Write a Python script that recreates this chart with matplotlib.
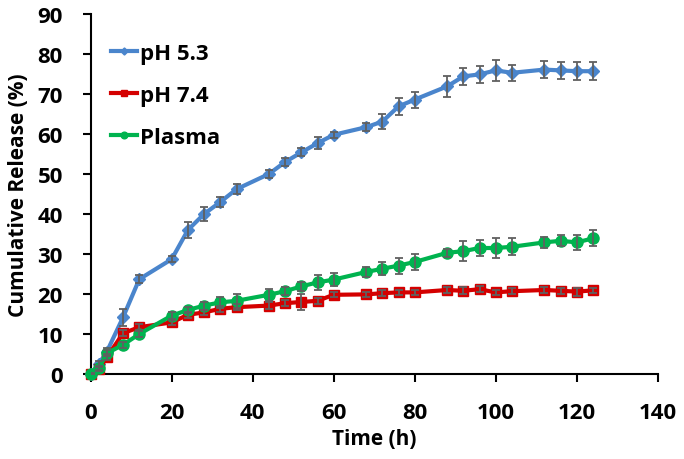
import matplotlib
matplotlib.use("Agg")
import matplotlib.pyplot as plt
import numpy as np

plt.rcParams['font.family'] = ['Open Sans', 'DejaVu Sans']
plt.rcParams['font.weight'] = 'bold'

time_h = [0, 2, 4, 8, 12, 20, 24, 28, 32, 36, 44, 48, 52, 56, 60, 68, 72, 76, 80,
          88, 92, 96, 100, 104, 112, 116, 120, 124]

ph53 = [0, 2.5, 5.6, 14.2, 23.7, 28.7, 36.0, 40.0, 43.0, 46.2, 50.0, 53.0, 55.4, 57.7,
        59.8, 61.7, 63.1, 66.9, 68.6, 71.9, 74.4, 74.9, 75.9, 75.3, 76.1, 75.9, 75.7, 75.7]
ph53_err = [0.3, 0.8, 1.0, 2.1, 1.0, 0.8, 1.9, 1.7, 1.2, 1.3, 1.0, 1.0, 1.0, 1.5,
            0.8, 1.0, 1.8, 2.1, 2.0, 2.6, 2.2, 2.1, 2.6, 2.0, 2.1, 2.1, 2.3, 2.3]

ph74 = [0, 1.2, 4.2, 10.2, 11.7, 12.9, 14.8, 15.4, 16.3, 16.7, 17.1, 17.7, 18.0, 18.3,
        19.8, 19.9, 20.2, 20.4, 20.4, 21.0, 20.8, 21.2, 20.4, 20.7, 21.0, 20.8, 20.6, 20.9]
ph74_err = [0.2, 0.5, 0.8, 0.8, 0.7, 0.7, 0.7, 0.7, 0.7, 0.8, 0.8, 0.8, 2.0, 0.8,
            0.6, 0.6, 0.7, 0.6, 0.6, 0.7, 0.9, 0.7, 0.7, 0.7, 0.8, 0.8, 1.0, 0.7]

plasma = [0, 1.5, 5.2, 7.3, 10.0, 14.6, 16.0, 17.1, 17.9, 18.3, 19.8, 20.7, 21.9, 22.9,
          23.6, 25.5, 26.3, 27.1, 28.0, 30.3, 30.7, 31.5, 31.5, 31.8, 32.9, 33.3, 32.9, 33.9]
plasma_err = [0.3, 0.5, 0.8, 0.8, 0.8, 0.9, 0.8, 1.0, 1.3, 1.7, 1.5, 1.0, 1.2, 1.8,
              1.6, 1.2, 1.6, 2.0, 2.0, 1.0, 2.5, 2.0, 2.6, 2.1, 1.3, 1.4, 1.8, 2.0]

blue = '#4a85cc'
red = '#d40000'
green = '#00b34f'
errc = '#606060'

fig = plt.figure(figsize=(6.84, 4.60), dpi=100)
ax = fig.add_axes([0.1326, 0.1848, 0.829, 0.7826])

series = [
    (ph53, ph53_err, blue, 'D', 6, 'pH 5.3'),
    (ph74, ph74_err, red, 's', 7, 'pH 7.4'),
    (plasma, plasma_err, green, 'o', 8, 'Plasma'),
]
handles = []
for vals, err, col, mk, ms, lab in series:
    h, = ax.plot(time_h, vals, color=col, lw=3, marker=mk, ms=ms, mfc=col, mec=col,
                 label=lab, zorder=3, clip_on=False)
    ax.errorbar(time_h, vals, yerr=err, fmt='none', ecolor=errc, elinewidth=1.3,
                capsize=3, capthick=1.3, zorder=4)
    handles.append(h)

ax.set_xlim(0, 140)
ax.set_ylim(0, 90)
ax.set_xticks(np.arange(0, 141, 20))
ax.set_yticks(np.arange(0, 91, 10))
for s in ['top', 'right']:
    ax.spines[s].set_visible(False)
for s in ['left', 'bottom']:
    ax.spines[s].set_linewidth(1.5)
ax.tick_params(axis='both', direction='out', length=6, width=1.5, labelsize=16)
ax.tick_params(axis='x', pad=14)
ax.tick_params(axis='y', pad=14)
for t in ax.get_xticklabels() + ax.get_yticklabels():
    t.set_fontweight('bold')
ax.set_xlabel('Time (h)', fontsize=15, fontweight='bold', labelpad=4)
ax.set_ylabel('Cumulative Release (%)', fontsize=15, fontweight='bold', labelpad=6)

leg = ax.legend(handles=handles, loc='upper left', bbox_to_anchor=(0.0, 0.975),
                frameon=False, fontsize=16, handlelength=1.2, handletextpad=0.1,
                labelspacing=0.95, markerscale=0.6)
for t in leg.get_texts():
    t.set_fontweight('bold')

fig.savefig('out.png', dpi=100)
